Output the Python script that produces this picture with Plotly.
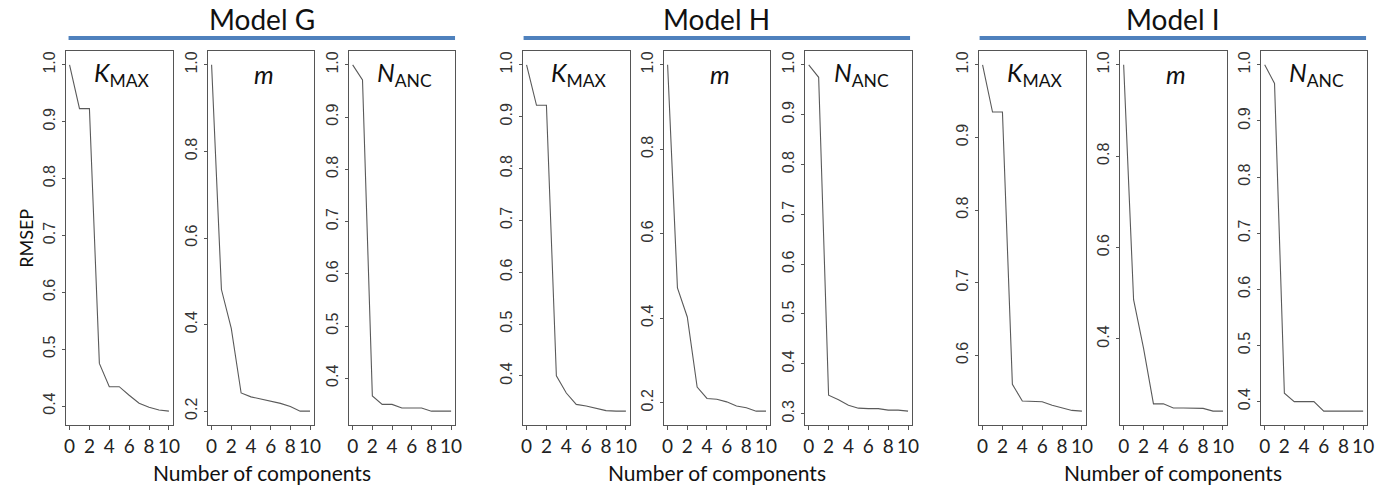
import plotly.graph_objects as go

components = list(range(11))

models = ["Model G", "Model H", "Model I"]

g_kmax = [1.0, 0.923, 0.923, 0.475, 0.434, 0.434, 0.419, 0.405, 0.398, 0.393, 0.391]
g_m = [1.0, 0.481, 0.391, 0.242, 0.233, 0.228, 0.223, 0.218, 0.211, 0.200, 0.200]
g_nanc = [1.0, 0.971, 0.366, 0.350, 0.350, 0.343, 0.343, 0.343, 0.337, 0.337, 0.337]

h_kmax = [1.0, 0.922, 0.922, 0.400, 0.367, 0.345, 0.342, 0.338, 0.333, 0.332, 0.332]
h_m = [1.0, 0.472, 0.403, 0.237, 0.210, 0.208, 0.202, 0.192, 0.188, 0.180, 0.180]
h_nanc = [1.0, 0.975, 0.337, 0.328, 0.317, 0.311, 0.310, 0.310, 0.307, 0.307, 0.305]

i_kmax = [1.0, 0.935, 0.935, 0.560, 0.537, 0.537, 0.536, 0.531, 0.528, 0.524, 0.523]
i_m = [1.0, 0.486, 0.380, 0.258, 0.258, 0.249, 0.249, 0.248, 0.248, 0.242, 0.242]
i_nanc = [1.0, 0.967, 0.415, 0.400, 0.400, 0.400, 0.383, 0.383, 0.383, 0.383, 0.383]

series = [g_kmax, g_m, g_nanc, h_kmax, h_m, h_nanc, i_kmax, i_m, i_nanc]
y_dticks = [0.1, 0.2, 0.1, 0.1, 0.2, 0.1, 0.1, 0.2, 0.1]
panel_labels = ["<i>K</i><sub>MAX</sub>", "<i>m</i>", "<i>N</i><sub>ANC</sub>"] * 3
x_ticks = [0, 2, 4, 6, 8, 10]

W, H = 1383, 492
px_boxes = [(64, 172), (207, 314), (349, 456),
            (524, 632), (666, 773), (808, 916),
            (983, 1091), (1125, 1233), (1267, 1374)]
top_px, bot_px = 51, 425
model_lines = [(67, 456), (525, 914), (984, 1373)]

fig = go.Figure()
line_col = "#555555"
tick_font = dict(family="Liberation Sans, Arial", size=16, color="#333333")
x_font = dict(family="Lato, Open Sans", size=19, color="#222222")


def ann(text, xp, yp, size, angle=0):
    fig.add_annotation(text=text, x=xp / W, y=1 - yp / H, xref="paper", yref="paper",
                       xanchor="center", yanchor="middle", showarrow=False,
                       textangle=angle,
                       font=dict(family="Lato, Open Sans", size=size, color="#111111"))


for i, ys in enumerate(series):
    n = i + 1
    xa = "x" if n == 1 else f"x{n}"
    ya = "y" if n == 1 else f"y{n}"
    fig.add_trace(go.Scatter(x=components, y=ys, mode="lines",
                             line=dict(color="#5a5a5a", width=1.1),
                             xaxis=xa, yaxis=ya, showlegend=False))
    lo, hi = min(ys), max(ys)
    d = hi - lo
    l, r = px_boxes[i]
    xkey = "xaxis" if n == 1 else f"xaxis{n}"
    ykey = "yaxis" if n == 1 else f"yaxis{n}"
    fig.update_layout(**{
        xkey: dict(domain=[l / W, r / W], anchor=ya, range=[-0.4, 10.4],
                   tickvals=x_ticks, ticks="outside", ticklen=4, tickcolor=line_col,
                   showline=True, mirror=True, linecolor=line_col, linewidth=1,
                   showgrid=False, zeroline=False, tickfont=x_font),
        ykey: dict(domain=[1 - bot_px / H, 1 - top_px / H], anchor=xa,
                   range=[lo - 0.04 * d, hi + 0.04 * d], dtick=y_dticks[i], tick0=0,
                   tickformat=".1f", tickangle=-90, ticks="outside", ticklen=3,
                   tickcolor=line_col, showline=True, mirror=True, linecolor=line_col,
                   linewidth=1, showgrid=False, zeroline=False, tickfont=tick_font),
    })
    ann(panel_labels[i], (l + r) / 2 + 3, 74, 25)

for k, m in enumerate(models):
    a, b = model_lines[k]
    fig.add_shape(type="line", xref="paper", yref="paper", x0=a / W, x1=b / W,
                  y0=1 - 38 / H, y1=1 - 38 / H, line=dict(color="#4F81BD", width=4))
    ann(m, (a + b) / 2, 19, 28)
    ann("Number of components", (a + b) / 2, 472, 21)

ann("RMSEP", 24, 238, 18, angle=-90)

fig.update_layout(width=W, height=H, margin=dict(l=0, r=0, t=0, b=0),
                  plot_bgcolor="white", paper_bgcolor="white")
fig.write_html("out.html")
